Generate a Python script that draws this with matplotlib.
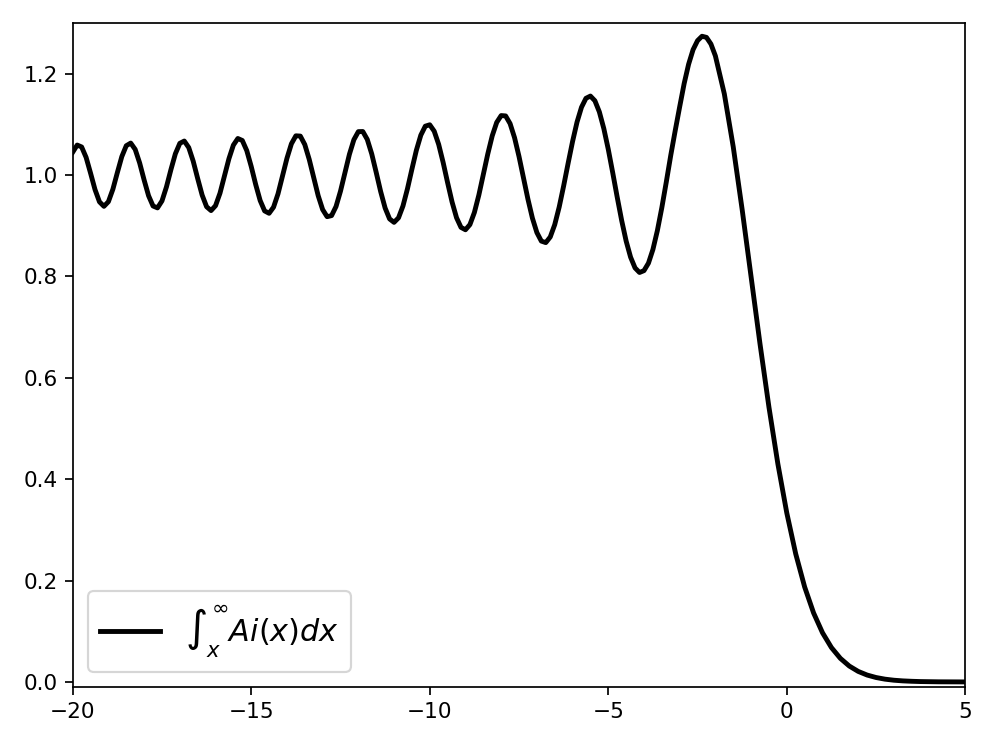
import numpy as np
import matplotlib
matplotlib.use("Agg")
from matplotlib import pyplot as plt

# sample grid: fine step over the wiggles, coarser on the smooth tail
x_fine = np.arange(-20, -2, 0.125)
x_coarse = np.arange(-2, 5.001, 0.25)
x = np.concatenate([x_fine, x_coarse])

# integral of Ai from x to infinity
y_fine = [
    # -20 .. -10.125
    1.04508, 1.05922, 1.05547, 1.03494, 1.00378, 0.97130, 0.94710, 0.93831,
    0.94751, 0.97202, 1.00479, 1.03643, 1.05790, 1.06312, 1.05062, 1.02388,
    0.99033, 0.95918, 0.93899, 0.93525, 0.94899, 0.97652, 1.01051, 1.04197,
    1.06263, 1.06714, 1.05428, 1.02736, 0.99322, 0.96054, 0.93752, 0.92993,
    0.93964, 0.96426, 0.99782, 1.03219, 1.05912, 1.07217, 1.06825, 1.04828,
    1.01692, 0.98136, 0.94975, 0.92928, 0.92457, 0.93667, 0.96296, 0.99754,
    1.03300, 1.06170, 1.07746, 1.07692, 1.06019, 1.03075, 0.99468, 0.95937,
    0.93196, 0.91789, 0.92003, 0.93797, 0.96823, 1.00494, 1.04103, 1.06979,
    1.08570, 1.08593, 1.07033, 1.04173, 1.00528, 0.96748, 0.93500, 0.91351,
    0.90671, 0.91566, 0.93905, 0.97282, 1.01156, 1.04889, 1.07878, 1.09647,
    # -10 .. -2.125
    1.09919, 1.08654, 1.06047, 1.02485, 0.98499, 0.94686, 0.91587, 0.89683,
    0.89210, 0.90231, 0.92622, 0.96062, 1.00087, 1.04159, 1.07745, 1.10384,
    1.11740, 1.11669, 1.10154, 1.07374, 1.03661, 0.99455, 0.95244, 0.91507,
    0.88662, 0.86974, 0.86673, 0.87792, 0.90212, 0.93686, 0.97860, 1.02320,
    1.06632, 1.10455, 1.13384, 1.15147, 1.15587, 1.14666, 1.12466, 1.09177,
    1.05075, 1.00446, 0.95643, 0.91042, 0.86994, 0.83799, 0.81679, 0.80779,
    0.81147, 0.82620, 0.85312, 0.89045, 0.93581, 0.98635, 1.03902, 1.08780,
    1.13480, 1.18050, 1.21870, 1.24740, 1.26521, 1.27388, 1.27163, 1.25856,
]
y_coarse = [
    1.23511, 1.16026, 1.05566, 0.93174, 0.79901, 0.66674, 0.54214, 0.43012,
    0.33333, 0.25261, 0.18738, 0.13617, 0.09702, 0.06782, 0.04655, 0.03138,
    0.02080, 0.01360, 0.00875, 0.00550, 0.00340, 0.00210, 0.00130, 0.00075,
    0.00045, 0.00026, 0.00015, 0.00008, 0.00005,
]
y = np.array(y_fine + y_coarse)

fig = plt.figure(figsize=(6.4, 4.8), dpi=155.625)
ax = fig.add_axes([0.0730, 0.0803, 0.8962, 0.8889])

ax.plot(x, y, color='black', lw=2.25, label=r'$\int_x^\infty Ai(x)dx$')

ax.set_xlim(-20, 5)
ax.set_ylim(-0.01, 1.3)
ax.set_xticks([-20, -15, -10, -5, 0, 5])
ax.set_yticks([0.0, 0.2, 0.4, 0.6, 0.8, 1.0, 1.2])
ax.legend(loc='lower left', fontsize=14)

fig.savefig('out.png', dpi=155.625)
